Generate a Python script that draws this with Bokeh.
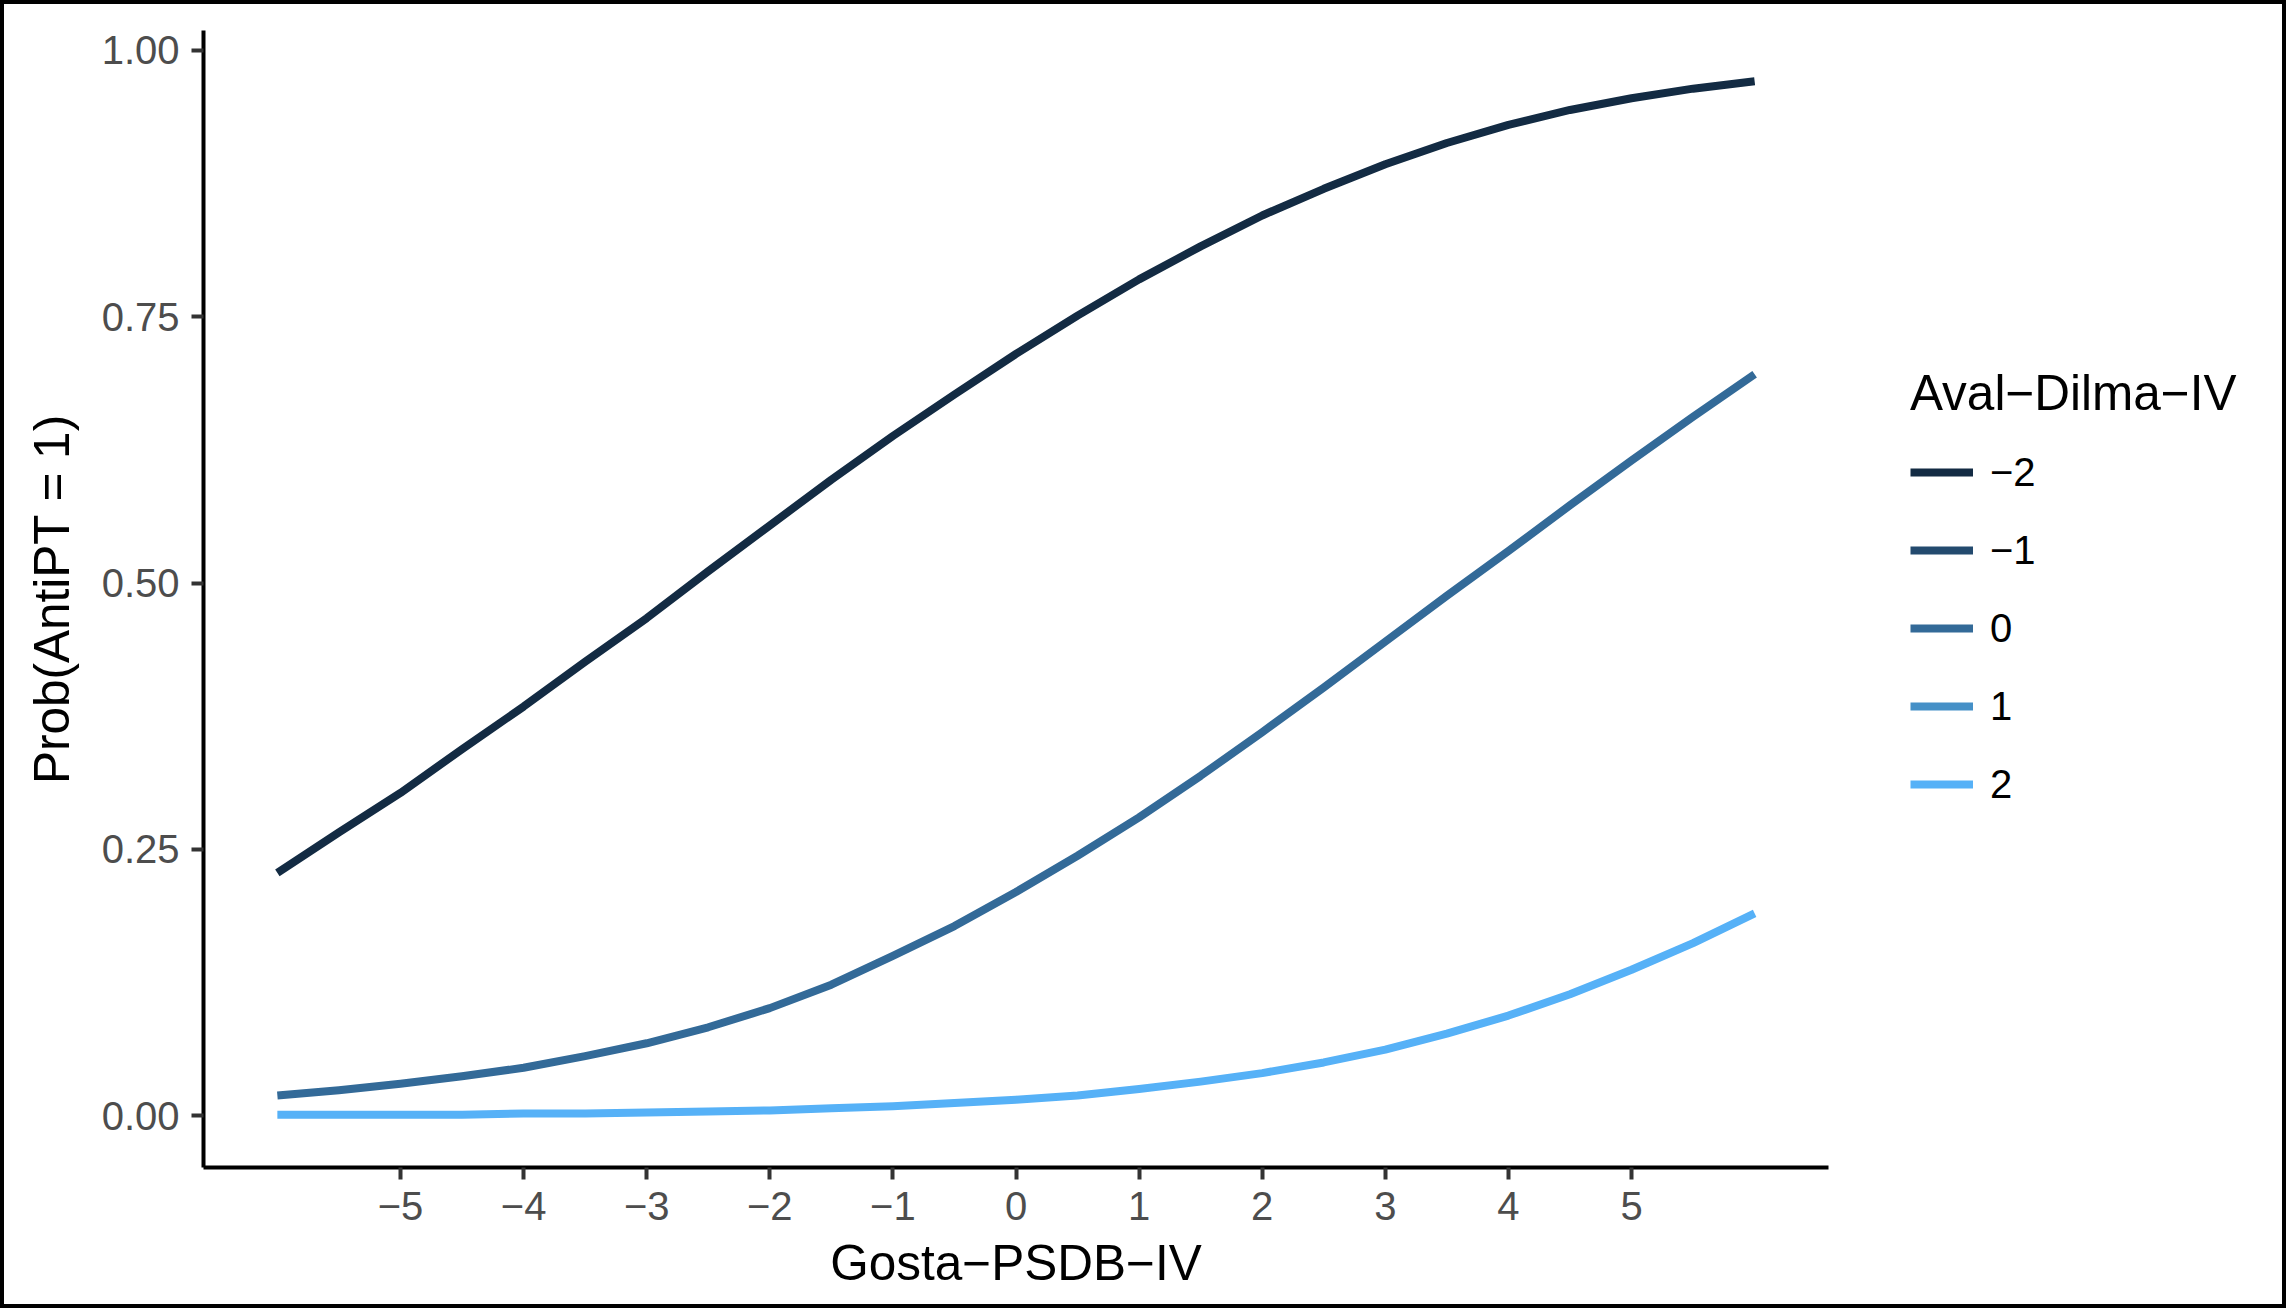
from bokeh.plotting import figure
from bokeh.layouts import row
from bokeh.models import (ColumnDataSource, Range1d, FixedTicker, NumeralTickFormatter,
                          CustomJSTickFormatter, Legend, LegendItem)
from bokeh.embed import file_html
from bokeh.resources import INLINE

# ---- data ----
x_vals = [-6, -5.5, -5, -4.5, -4, -3.5, -3, -2.5, -2, -1.5, -1, -0.5, 0,
          0.5, 1, 1.5, 2, 2.5, 3, 3.5, 4, 4.5, 5, 5.5, 6]
prob_m2 = [0.228, 0.266, 0.303, 0.344, 0.384, 0.426, 0.467, 0.511, 0.554, 0.597, 0.638, 0.677, 0.715,
           0.751, 0.785, 0.816, 0.845, 0.870, 0.893, 0.913, 0.930, 0.944, 0.955, 0.964, 0.971]
prob_0 = [0.019, 0.024, 0.030, 0.037, 0.045, 0.056, 0.068, 0.083, 0.101, 0.123, 0.150, 0.178, 0.210,
          0.244, 0.280, 0.319, 0.360, 0.402, 0.445, 0.488, 0.530, 0.573, 0.615, 0.656, 0.696]
prob_2 = [0.001, 0.001, 0.001, 0.001, 0.002, 0.002, 0.003, 0.004, 0.005, 0.007, 0.009, 0.012, 0.015,
          0.019, 0.025, 0.032, 0.040, 0.050, 0.062, 0.077, 0.094, 0.114, 0.137, 0.162, 0.190]
legend_levels = ["\u22122", "\u22121", "0", "1", "2"]
level_colors = ["#132B43", "#234A6E", "#336A98", "#4590C7", "#56B1F7"]
series = {"\u22122": prob_m2, "0": prob_0, "2": prob_2}
x_ticks = [-5, -4, -3, -2, -1, 0, 1, 2, 3, 4, 5]
y_ticks = [0.0, 0.25, 0.5, 0.75, 1.0]

W, H = 2278, 1300
WM = 1830
FONT = "Liberation Sans"

# ---- main chart ----
p = figure(width=WM, height=H, output_backend="svg", toolbar_location=None,
           x_range=Range1d(-6.6, 6.6), y_range=Range1d(-0.0486, 1.0186),
           min_border_left=199, min_border_right=6, min_border_top=26, min_border_bottom=137)
p.outline_line_color = None
p.grid.visible = False
p.background_fill_color = "white"
p.border_fill_color = "white"

for lvl, col in zip(legend_levels, level_colors):
    if lvl in series:
        src = ColumnDataSource(dict(x=x_vals, y=series[lvl]))
        p.line("x", "y", source=src, line_color=col, line_width=8, line_cap="butt", line_join="round")

for ax in (p.xaxis[0], p.yaxis[0]):
    ax.axis_line_color = "black"
    ax.axis_line_width = 4
    ax.major_tick_line_color = "#333333"
    ax.major_tick_line_width = 4
    ax.major_tick_out = 12
    ax.major_tick_in = 0
    ax.minor_tick_line_color = None
    ax.major_label_text_font = FONT
    ax.major_label_text_font_size = "40px"
    ax.major_label_text_color = "#4D4D4D"
    ax.axis_label_text_font = FONT
    ax.axis_label_text_font_size = "49.5px"
    ax.axis_label_text_font_style = "normal"
    ax.axis_label_text_color = "black"

p.xaxis.ticker = FixedTicker(ticks=x_ticks)
p.xaxis.formatter = CustomJSTickFormatter(code="return tick < 0 ? '\u2212' + Math.abs(tick) : String(tick);")
p.xaxis.axis_label = "Gosta\u2212PSDB\u2212IV"
p.xaxis.major_label_standoff = 12
p.xaxis.axis_label_standoff = 12

p.yaxis.ticker = FixedTicker(ticks=y_ticks)
p.yaxis.formatter = NumeralTickFormatter(format="0.00")
p.yaxis.axis_label = "Prob(AntiPT = 1)"
p.yaxis.major_label_standoff = 12
p.yaxis.axis_label_standoff = 20

# ---- legend panel (separate blank figure on the right) ----
pl = figure(width=W - WM, height=H, output_backend="svg", toolbar_location=None,
            x_range=Range1d(1, 2), y_range=Range1d(1, 2),
            x_axis_type=None, y_axis_type=None, min_border=0)
pl.outline_line_color = None
pl.grid.visible = False
pl.background_fill_color = "white"
pl.border_fill_color = "white"

# key-only renderers: a single point outside the visible range, so nothing is drawn
key_renderers = []
for lvl, col in zip(legend_levels, level_colors):
    src = ColumnDataSource(dict(x=[0], y=[0]))
    key_renderers.append(pl.line("x", "y", source=src, line_color=col, line_width=8, line_cap="butt"))

items = [LegendItem(label=lvl, renderers=[r]) for lvl, r in zip(legend_levels, key_renderers)]
legend = Legend(items=items, location=(76, 344), title="Aval\u2212Dilma\u2212IV",
                title_text_font=FONT, title_text_font_size="49.5px", title_text_color="black",
                title_text_font_style="normal", title_standoff=12,
                label_text_font=FONT, label_text_font_size="40px", label_text_color="black",
                label_standoff=17, glyph_width=63, glyph_height=78, label_height=78,
                spacing=0, padding=0, margin=0,
                background_fill_alpha=0, border_line_color=None)
pl.add_layout(legend, "center")

layout = row(p, pl, spacing=0)
layout.styles = {"border": "4px solid black"}

open("out.html", "w").write(file_html(layout, INLINE))
